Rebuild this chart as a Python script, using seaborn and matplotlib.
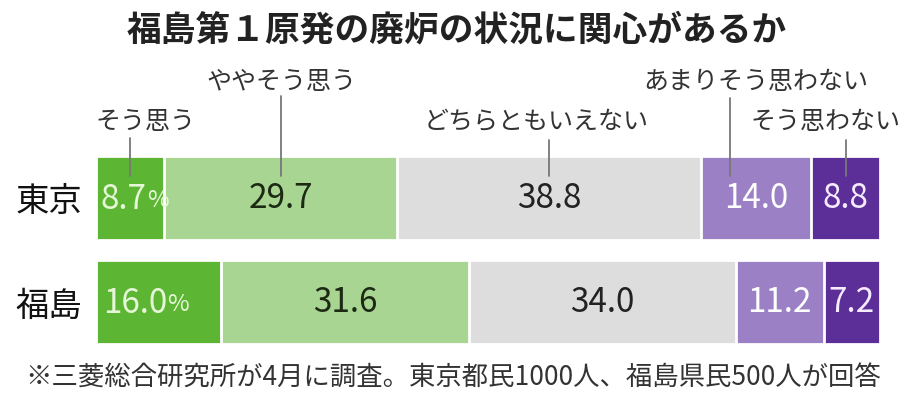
import matplotlib.pyplot as plt
import matplotlib.transforms as mtransforms
import numpy as np
import pandas as pd
import seaborn as sns

# data
regions = ["東京", "福島"]
answers = ["そう思う", "ややそう思う", "どちらともいえない", "あまりそう思わない", "そう思わない"]
tokyo = [8.7, 29.7, 38.8, 14.0, 8.8]
fukushima = [16.0, 31.6, 34.0, 11.2, 7.2]
title = "福島第１原発の廃炉の状況に関心があるか"
note = "※三菱総合研究所が4月に調査。東京都民1000人、福島県民500人が回答"

colors = ["#5db534", "#a9d592", "#dddddd", "#9b80c5", "#5c2e97"]
text_colors = ["#e6f7d8", "#1c2a14", "#222222", "#ffffff", "#f6eaff"]

sns.set_theme(style="white")
plt.rcParams["font.family"] = ["Noto Sans CJK JP", "DejaVu Sans"]

fig = plt.figure(figsize=(9.13, 4.0), dpi=100)
ax = fig.add_axes([96 / 913, 1 - 354 / 400, 784 / 913, 208 / 400])

values = np.array([tokyo, fukushima])
cum = values.cumsum(axis=1)

# stacked bars: draw cumulative totals from the longest down
for i in range(len(answers) - 1, -1, -1):
    df = pd.DataFrame({"region": regions, "value": cum[:, i]})
    sns.barplot(data=df, x="value", y="region", orient="h", color=colors[i],
                width=0.8, edgecolor="white", linewidth=2, saturation=1, ax=ax)

ax.set_xlim(0, 100)
ax.set_ylim(1.5, -0.5)
ax.set_xlabel("")
ax.set_ylabel("")
ax.set_xticks([])
ax.tick_params(axis="y", length=0, pad=10, labelsize=24, labelcolor="#111111")
sns.despine(ax=ax, left=True, bottom=True)

# value labels; the first segment gets a smaller "%"
for r in range(len(regions)):
    for i in range(len(answers)):
        left = cum[r, i] - values[r, i]
        center = left + values[r, i] / 2
        label = f"{values[r, i]:.1f}"
        if i == 0:
            # narrow segment: nudge the label so it stays inside the bar
            dx = 12 if values[r, i] < 10 else 6
            ax.annotate(label, (center, r), xytext=(dx, -1),
                        textcoords="offset points", ha="right", va="center",
                        fontsize=24, color=text_colors[i])
            ax.annotate("%", (center, r), xytext=(dx, -2),
                        textcoords="offset points", ha="left", va="center",
                        fontsize=17, color=text_colors[i])
        else:
            ax.text(center, r, label, ha="center", va="center", fontsize=24,
                    color=text_colors[i])

# category labels with leader lines (y in figure pixels)
trans = mtransforms.blended_transform_factory(ax.transData, fig.transFigure)
label_x_shift = [1.9, 0.1, -1.7, 0.0, -2.6]
label_y = [122, 82, 122, 82, 122]
line_top = [138, 96, 140, 98, 140]
line_x_shift = [0.0, 0.0, 0.0, -3.3, 0.0]
for i, name in enumerate(answers):
    center = cum[0, i] - values[0, i] / 2
    ax.text(center + label_x_shift[i], 1 - label_y[i] / 400, name,
            transform=trans, ha="center", va="center", fontsize=18,
            color="#333333")
    lx = center + line_x_shift[i]
    ax.plot([lx, lx], [1 - line_top[i] / 400, 1 - 176 / 400],
            transform=trans, color="#777777", linewidth=1.3, clip_on=False)

fig.text(0.5, 1 - 30 / 400, title, ha="center", va="center",
         fontsize=25, fontweight="bold", color="#222222")
fig.text(25 / 913, 1 - 377 / 400, note, ha="left", va="center",
         fontsize=19, color="#333333")

fig.savefig("out.png", dpi=100)
